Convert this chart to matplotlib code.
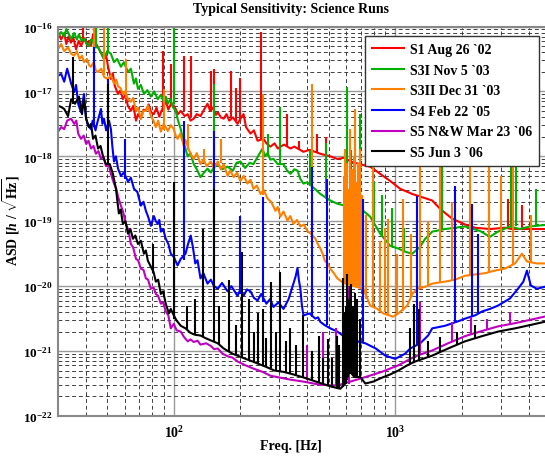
import numpy as np
import matplotlib
matplotlib.use("Agg")
import matplotlib.pyplot as plt
from matplotlib.ticker import LogLocator, LogFormatterMathtext, NullFormatter, FixedLocator

plt.rcParams["font.family"] = ["Liberation Serif", "DejaVu Serif"]
plt.rcParams["font.weight"] = "bold"
plt.rcParams["mathtext.fontset"] = "custom"
plt.rcParams["mathtext.rm"] = "Liberation Serif:bold"
plt.rcParams["mathtext.it"] = "Liberation Serif:italic:bold"
plt.rcParams["mathtext.bf"] = "Liberation Serif:bold"
plt.rcParams["axes.unicode_minus"] = False

# spectra: (frequency [Hz], log10 ASD) for the noise floor of each run
# lines:   (frequency [Hz], log10 floor, log10 peak) for the narrow spectral lines

s1_curve = [(30, -16.08), (31, -16.2), (32, -16.1), (32.7, -16.27), (33.5, -16.15), (34.3, -16.25),
            (35.1, -16.16), (36.2, -16.35), (37.2, -16.22), (38.1, -16.3), (39.5, -16.18), (40.5, -16.28),
            (41.4, -16.22), (42.3, -16.3), (43.2, -16.12), (44.3, -16.25), (45.5, -16.32), (46.8, -16.4),
            (48.4, -16.5), (49.5, -16.45), (50.5, -16.62), (52, -16.81), (53, -16.72), (54.2, -16.92),
            (56, -17.04), (57.5, -16.98), (58.9, -17.12), (60.5, -17.05), (62, -17.22), (64, -17.30),
            (65.7, -17.22), (67.5, -17.45), (69, -17.35), (71, -17.42), (73, -17.28), (74.8, -17.30),
            (77, -17.2), (79, -17.32), (81.3, -17.35), (83.5, -17.25), (86, -17.39), (88, -17.3),
            (92, -17.15), (94.5, -17.28), (97.5, -17.18), (102, -17.27), (104.5, -17.35), (107.5, -17.30),
            (112, -17.38), (115.6, -17.35), (119, -17.45), (123, -17.42), (127, -17.35), (132, -17.38),
            (137, -17.28), (142, -17.19), (146, -17.3), (150, -17.25), (155, -17.36), (158, -17.32),
            (163, -17.4), (168, -17.42), (173, -17.35), (178, -17.45), (185, -17.4), (194, -17.5),
            (200, -17.42), (206.6, -17.35), (212, -17.55), (222, -17.65), (230, -17.6), (239, -17.76),
            (254, -17.73), (262, -17.8), (273.5, -17.85), (285, -17.8), (295, -17.88), (303, -17.85),
            (315, -17.82), (336.5, -17.88), (350, -17.85), (385, -17.93), (410, -17.9), (459, -17.96),
            (509, -18.0), (548, -18.04), (590, -18.02), (627, -18.08), (710, -18.13), (771, -18.16),
            (855, -18.27), (949, -18.38), (1053, -18.5), (1194, -18.58), (1297, -18.62), (1469, -18.68),
            (1596, -18.81), (1806, -18.96), (2066, -19.05), (2293, -19.10), (2678, -19.12), (3128, -19.10),
            (3370, -19.12), (4055, -19.12), (5000, -19.12)]
s1_lines = [(38.8, -16.2, -16.0), (89, -17.3, -16.38), (96.9, -17.2, -16.58), (110.9, -17.3, -16.45),
            (119.3, -17.4, -16.45), (146.8, -17.3, -16.68), (151.4, -17.3, -16.65), (181, -17.4, -16.68),
            (190, -17.45, -16.95), (200, -17.45, -16.8), (246.6, -17.75, -16.08), (326, -17.85, -17.35),
            (368, -17.9, -17.76), (445, -17.95, -17.65), (489, -17.98, -17.70), (3229, -19.1, -18.65),
            (3735, -19.12, -18.75)]

s3i_curve = [(30, -16.16), (31, -16.085), (32, -16.15), (32.7, -16.04), (33.6, -16.12), (34.4, -16.19),
             (35.5, -16.1), (36.5, -16.2), (37.3, -16.12), (38.3, -16.22), (39.3, -16.19), (40.3, -16.26),
             (41.4, -16.30), (42.3, -16.2), (43.2, -16.22), (44.2, -16.32), (45.5, -16.32), (46.8, -16.4),
             (48.4, -16.5), (50, -16.38), (52, -16.42), (53.7, -16.55), (55.5, -16.5), (57.7, -16.62),
             (59.5, -16.55), (62.1, -16.70), (64, -16.65), (66.1, -16.88), (67.5, -16.8), (68.9, -16.96),
             (71, -16.9), (73.3, -17.04), (76, -16.98), (78.8, -17.08), (81.5, -17.0), (84.7, -17.12),
             (87.5, -17.05), (90.2, -17.16), (92, -17.08), (94, -17.19), (96.5, -17.12), (99, -17.24),
             (102, -17.30), (104.5, -17.45), (107.5, -17.58), (111, -17.8), (115.6, -18.0), (119, -17.95),
             (123, -18.12), (127, -18.2), (132, -18.32), (137, -18.25), (142, -18.19), (147, -18.25),
             (153, -18.15), (158, -18.12), (165, -18.2), (175, -18.16), (185, -18.22), (192, -18.1),
             (200, -18.08), (210, -18.18), (220, -18.1), (229, -18.12), (240, -18.0), (251.7, -17.88),
             (258, -18.0), (265, -17.95), (273, -18.05), (282, -18.04), (295, -18.12), (313, -18.12),
             (325, -18.22), (336.5, -18.27), (350, -18.2), (362, -18.22), (373, -18.35), (385, -18.42),
             (400, -18.4), (423, -18.47), (440, -18.52), (459, -18.58), (509, -18.68), (548, -18.73),
             (627, -18.78), (718, -18.84), (771, -18.93), (855, -19.19), (949, -19.38), (1032, -19.42),
             (1109, -19.47), (1194, -19.5), (1297, -19.39), (1365, -19.27), (1469, -19.16), (1680, -19.12),
             (1863, -19.10), (2066, -19.08), (2415, -19.15), (2678, -19.24), (2909, -19.16), (3296, -19.08),
             (3659, -19.12), (4055, -19.08), (5000, -19.05)]
s3i_lines = [(44.5, -16.3, -15.8), (50.4, -16.4, -15.8), (100, -17.2, -16.0), (151.4, -18.2, -16.88),
             (265, -18.0, -17.65), (303, -18.1, -17.24), (414, -18.45, -17.9), (489, -18.65, -17.8),
             (608, -18.78, -16.93), (630, -18.78, -17.9), (660, -18.8, -17.6), (695, -18.82, -17.35),
             (800, -19.0, -18.4), (870, -19.25, -18.6), (970, -19.4, -18.8), (1100, -19.47, -19.1),
             (1630, -19.12, -18.0), (2640, -19.2, -17.8), (3350, -19.08, -17.9), (3500, -19.08, -18.0),
             (4340, -19.08, -18.5)]

s3ii_curve = [(30, -16.35), (31, -16.27), (32, -16.38), (33.3, -16.32), (34.4, -16.42), (35.5, -16.45),
              (36.5, -16.38), (37.5, -16.5), (38.5, -16.45), (39.3, -16.55), (40.5, -16.5), (41.5, -16.6),
              (42.3, -16.62), (43.5, -16.55), (44.5, -16.68), (45.5, -16.70), (47, -16.65), (48.5, -16.78),
              (50.4, -16.81), (52, -16.75), (53.7, -16.88), (55, -16.82), (56, -16.92), (57.5, -16.95),
              (58.9, -17.04), (60.5, -17.0), (62, -17.12), (64, -17.16), (65.5, -17.1), (67.5, -17.30),
              (69, -17.25), (71, -17.42), (72.8, -17.3), (74.8, -17.30), (76.5, -17.22), (78.8, -17.38),
              (81, -17.45), (83, -17.55), (85, -17.45), (87.4, -17.62), (90, -17.5), (92, -17.55),
              (94, -17.61), (97, -17.52), (100, -17.58), (102, -17.68), (104, -17.73), (107, -17.65),
              (110.9, -17.84), (113, -17.75), (117, -17.9), (120, -17.98), (123, -18.04), (127, -17.95),
              (132, -18.12), (136, -18.05), (141, -18.15), (146.8, -18.08), (152, -18.18), (158, -18.08),
              (163, -18.2), (168, -18.12), (175, -18.30), (180, -18.22), (186.4, -18.32), (193, -18.25),
              (200, -18.38), (207, -18.3), (215, -18.42), (222, -18.36), (229, -18.5), (237, -18.45),
              (246.6, -18.58), (255, -18.52), (265, -18.65), (275, -18.7), (288, -18.84), (295, -18.78),
              (303, -18.93), (313, -18.85), (326, -18.99), (336, -18.92), (347, -19.04), (360, -18.98),
              (373, -19.08), (387, -19.05), (401, -19.15), (418, -19.2), (436, -19.27), (447, -19.35),
              (459, -19.42), (470, -19.5), (481, -19.61), (495, -19.65), (509, -19.73), (528, -19.8),
              (548, -19.88), (583, -19.95), (608, -19.97), (718, -20.04), (748, -20.19), (771, -20.30),
              (830, -20.35), (883, -20.42), (979, -20.47), (1032, -20.42), (1133, -20.30), (1194, -20.12),
              (1257, -20.04), (1365, -20.01), (1469, -19.96), (1680, -19.93), (1863, -19.90), (2066, -19.84),
              (2293, -19.82), (2541, -19.80), (2818, -19.76), (3128, -19.73), (3475, -19.65), (3735, -19.5),
              (3934, -19.62), (4365, -19.65), (5000, -19.65)]
s3ii_lines = [(43.6, -16.65, -15.9), (48.4, -16.75, -15.9), (60.8, -17.1, -16.5), (90.2, -17.6, -16.96),
              (115.6, -17.9, -17.5), (136.5, -18.1, -17.88), (163, -18.1, -17.73), (254, -18.6, -17.04),
              (423, -19.2, -16.88), (590, -19.95, -18.3), (595, -19.95, -17.88), (603, -19.96, -18.1),
              (612, -19.97, -18.5), (627, -19.97, -17.58), (640, -19.98, -18.2), (650, -19.99, -18.0),
              (661, -20.0, -17.27), (670, -20.0, -18.4), (680, -20.0, -18.1), (695, -20.0, -17.88),
              (705, -20.02, -18.6), (740, -20.2, -18.9), (796, -20.32, -18.04), (850, -20.38, -19.3),
              (900, -20.4, -19.1), (930, -20.45, -18.96), (1020, -20.45, -19.5), (1086, -20.38, -18.65),
              (1180, -20.15, -19.2), (1297, -20.03, -17.58), (1400, -20.0, -19.0), (1596, -19.94, -18.04),
              (1800, -19.9, -18.7), (2178, -19.83, -17.42), (2650, -19.78, -17.6), (3000, -19.75, -18.3),
              (3404, -19.67, -17.9), (4100, -19.64, -18.9)]

s4_curve = [(30, -16.76), (31, -16.73), (32, -16.85), (33, -16.65), (34.4, -16.88), (35.5, -17.01),
            (36.2, -16.9), (37, -17.19), (38.1, -17.32), (39.3, -17.04), (40.2, -17.42), (41, -17.53),
            (42.3, -17.58), (43, -17.45), (44.3, -17.6), (45, -17.5), (46.9, -17.27), (47.6, -17.5),
            (48.4, -17.42), (49.5, -17.6), (51, -17.45), (52, -17.58), (52.8, -17.85), (53.7, -18.08),
            (54.8, -18.0), (56, -18.19), (57.7, -18.30), (59.5, -18.25), (62.1, -18.39), (64, -18.33),
            (66.1, -18.5), (68.5, -18.55), (71, -18.76), (73, -18.7), (74.8, -18.84), (76.4, -18.92),
            (78.8, -19.07), (81.3, -18.92), (83, -19.0), (84.7, -19.04), (86, -18.98), (87.4, -19.16),
            (89.5, -19.12), (92, -19.27), (94.5, -19.35), (96.9, -19.5), (100, -19.55), (104, -19.68),
            (107.5, -19.58), (113, -19.5), (116, -19.35), (119.3, -19.22), (122, -19.4), (125, -19.65),
            (128, -19.6), (132, -19.88), (136, -19.8), (142, -19.96), (147, -19.9), (152, -20.0),
            (158, -20.04), (165, -19.95), (175, -20.08), (182, -20.0), (194, -20.15), (200, -20.05),
            (206.6, -20.15), (214, -20.05), (222, -20.08), (230, -20.18), (239, -20.22), (248, -20.12),
            (262, -20.27), (272, -20.2), (282, -20.32), (297, -20.25), (313, -20.35), (330, -20.2),
            (347, -19.96), (355, -19.85), (362, -19.72), (367, -19.9), (373, -20.04), (379, -20.3),
            (385, -20.45), (410, -20.42), (436, -20.5), (448, -20.48), (459, -20.55), (480, -20.6),
            (509, -20.65), (548, -20.70), (608, -20.81), (674, -20.85), (733, -20.88), (817, -20.96),
            (902, -21.07), (1000, -21.12), (1109, -21.04), (1169, -20.96), (1297, -20.88), (1408, -20.76),
            (1469, -20.65), (1680, -20.61), (1963, -20.53), (2066, -20.5), (2293, -20.45), (2466, -20.39),
            (2678, -20.35), (2909, -20.30), (3296, -20.19), (3584, -20.04), (3790, -19.93), (3934, -19.76),
            (4097, -19.99), (4365, -20.04), (5000, -19.99)]
s4_lines = [(43.6, -17.55, -16.32), (50.4, -17.5, -16.81), (60, -18.35, -17.73), (110.9, -19.6, -17.45),
            (151.4, -20.0, -17.61), (200, -20.12, -18.92), (251.7, -20.25, -18.62), (423, -20.48, -18.16),
            (494, -20.6, -18.35), (718, -20.87, -18.65), (1257, -20.9, -18.61), (1863, -20.56, -18.45),
            (2223, -20.47, -18.73), (2366, -20.43, -19.19)]

s5nw_curve = [(30, -17.62), (31, -17.55), (32, -17.58), (33, -17.45), (34.4, -17.42), (35.5, -17.5),
              (36.3, -17.45), (37, -17.65), (38.1, -17.73), (39.2, -17.68), (40.2, -17.81), (41.2, -17.76),
              (42.3, -17.88), (43.4, -17.84), (44.5, -17.96), (45.7, -17.92), (46.9, -18.04), (48.1, -18.0),
              (49.4, -18.15), (50.5, -18.1), (52, -18.27), (53.7, -18.42), (55, -18.5), (56, -18.62),
              (57.7, -18.76), (59, -18.85), (60.8, -19.04), (62.5, -19.15), (64, -19.35), (65.5, -19.4),
              (67.5, -19.58), (69, -19.6), (71, -19.73), (73, -19.75), (74.8, -19.88), (76.5, -19.9),
              (78.8, -20.04), (81, -20.02), (83, -20.12), (85, -20.15), (87.4, -20.27), (89.5, -20.25),
              (92, -20.39), (94.5, -20.45), (96.9, -20.65), (100, -20.58), (103, -20.68), (107.5, -20.70),
              (111, -20.78), (115.6, -20.85), (119, -20.82), (123, -20.86), (128, -20.84), (132, -20.9),
              (140, -20.88), (146.8, -20.92), (152, -20.97), (158, -20.96), (166, -21.04), (175, -21.08),
              (184, -21.1), (194, -21.16), (211, -21.22), (229, -21.27), (251.7, -21.32), (273.5, -21.38),
              (303, -21.41), (336.5, -21.44), (385, -21.47), (459, -21.52), (548, -21.53), (627, -21.47),
              (733, -21.40), (870, -21.32), (1032, -21.22), (1232, -21.08), (1469, -20.99), (1733, -20.88),
              (2066, -20.77), (2466, -20.69), (2909, -20.62), (3475, -20.57), (4055, -20.52), (5000, -20.45)]
s5nw_lines = [(400, -21.45, -20.9), (470, -21.5, -20.7), (540, -21.52, -20.65), (620, -21.5, -20.0),
              (1297, -21.05, -20.24), (1800, -20.86, -20.55), (2200, -20.75, -20.47), (2600, -20.67, -20.5),
              (3300, -20.59, -20.4)]

s5_curve = [(30, -17.22), (31, -17.24), (32, -17.27), (33.3, -17.38), (34.4, -17.12), (35.8, -17.19),
            (37.3, -17.08), (38.5, -17.35), (39.3, -17.12), (40.2, -17.42), (41.4, -17.55), (42.3, -17.5),
            (43.2, -17.73), (44.3, -17.68), (45.5, -17.88), (46.7, -17.84), (47.9, -18.0), (49.4, -18.12),
            (51.4, -18.12), (53.1, -18.27), (54.8, -18.50), (56.5, -18.88), (57.6, -18.82), (58.9, -19.04),
            (60.5, -19.0), (62.1, -19.19), (63.7, -19.12), (65.4, -19.27), (67, -19.22), (68.9, -19.35),
            (71, -19.3), (73.3, -19.5), (74.8, -19.45), (76.4, -19.61), (78.8, -19.70), (81, -19.78),
            (83, -19.93), (85, -19.9), (87.4, -20.12), (89.5, -20.08), (92, -20.27), (95, -20.42),
            (96.9, -20.35), (100, -20.45), (103, -20.53), (107.5, -20.61), (113, -20.65), (119, -20.72),
            (125, -20.75), (132, -20.76), (139, -20.8), (148, -20.84), (158, -20.88), (168, -20.96),
            (184, -21.04), (211, -21.12), (227, -21.16), (246.6, -21.21), (260, -21.24), (285, -21.30),
            (313, -21.32), (347, -21.36), (397, -21.42), (466, -21.50), (518, -21.55), (565, -21.58),
            (595, -21.5), (620, -21.3), (654, -21.4), (695, -21.40), (733, -21.50), (796, -21.47),
            (870, -21.41), (949, -21.36), (1032, -21.30), (1133, -21.22), (1232, -21.16), (1469, -21.07),
            (1733, -20.96), (2066, -20.85), (2466, -20.77), (2909, -20.70), (3475, -20.65), (4055, -20.60),
            (5000, -20.53)]
s5_lines = [(35.1, -17.2, -16.47), (50.4, -18.1, -16.88), (80.5, -19.8, -19.35), (100, -20.5, -18.4),
            (115, -20.68, -20.3), (125, -20.74, -20.2), (136, -20.78, -19.12), (151.4, -20.85, -18.5),
            (160, -20.9, -20.3), (178, -21.0, -19.9), (190, -21.05, -20.6), (204, -21.1, -19.47),
            (218, -21.13, -20.19), (230, -21.17, -20.7), (239, -21.18, -20.42), (252, -21.22, -20.35),
            (260, -21.24, -20.8), (273.5, -21.26, -19.93), (290, -21.3, -20.7), (303, -21.3, -19.78),
            (320, -21.33, -20.85), (336.5, -21.33, -20.65), (355, -21.37, -20.9), (385, -21.4, -20.45),
            (420, -21.45, -21.0), (452, -21.48, -20.76), (470, -21.5, -21.1), (499, -21.52, -20.82),
            (520, -21.55, -21.1), (548, -21.56, -20.76), (560, -21.57, -20.9), (583, -21.55, -19.88),
            (590, -21.5, -20.4), (600, -21.5, -20.3), (608, -21.45, -19.81), (615, -21.4, -20.2),
            (625, -21.35, -20.0), (634, -21.35, -19.96), (645, -21.38, -20.3), (660, -21.4, -20.1),
            (674, -21.4, -20.19), (690, -21.42, -20.5), (1169, -21.2, -20.65), (1213, -21.18, -20.27),
            (1277, -21.15, -20.35), (1400, -21.1, -20.85), (1600, -21.02, -20.78), (1900, -20.9, -20.7),
            (2300, -20.8, -20.6)]

run_labels = ["S1 Aug 26 `02", "S3I Nov 5 `03", "S3II Dec 31 `03", "S4 Feb 22 `05",
              "S5 N&W Mar 23 `06", "S5 Jun 3 `06"]
run_colors = ["#ff0000", "#00b000", "#ff8000", "#0000ff", "#c000c0", "#000000"]
run_curves = [s1_curve, s3i_curve, s3ii_curve, s4_curve, s5nw_curve, s5_curve]
run_lines = [s1_lines, s3i_lines, s3ii_lines, s4_lines, s5nw_lines, s5_lines]

fig = plt.figure(figsize=(5.45, 4.64), dpi=100)
ax = fig.add_axes([58 / 545, 47 / 464, 492 / 545, 389.5 / 464])

for label, color, curve, lines in zip(run_labels, run_colors, run_curves, run_lines):
    f, e = zip(*curve)
    ax.plot(f, 10.0 ** np.array(e), color=color, lw=1.5, label=label)
    lf, lo, hi = zip(*lines)
    ax.vlines(lf, 10.0 ** np.array(lo), 10.0 ** np.array(hi), color=color, lw=1.5)

ax.set_xscale("log")
ax.set_yscale("log")
ax.set_xlim(30, 5000)
ax.set_ylim(1e-22, 1e-16)

ax.xaxis.set_major_locator(FixedLocator([100, 1000]))
ax.xaxis.set_major_formatter(LogFormatterMathtext())
ax.xaxis.set_minor_locator(LogLocator(base=10, subs=np.arange(2, 10), numticks=20))
ax.xaxis.set_minor_formatter(NullFormatter())
ax.yaxis.set_major_locator(FixedLocator([1e-22, 1e-21, 1e-20, 1e-19, 1e-18, 1e-17, 1e-16]))
ax.yaxis.set_major_formatter(LogFormatterMathtext())
ax.yaxis.set_minor_locator(LogLocator(base=10, subs=np.arange(2, 10), numticks=20))
ax.yaxis.set_minor_formatter(NullFormatter())

ax.grid(which="major", color="#9a9a9a", lw=1.0, ls="-")
ax.grid(which="minor", color="#404040", lw=0.7, ls=(0, (4, 3)))
ax.set_axisbelow(True)
ax.tick_params(which="both", length=0, labelsize=10)
ax.tick_params(axis="x", pad=6)
ax.tick_params(axis="y", pad=4, labelsize=9.5)
for sp in ax.spines.values():
    sp.set_color("#888888")
    sp.set_linewidth(1.5)

leg = ax.legend(loc="upper right", bbox_to_anchor=(539 / 545, 1 - 37 / 464), bbox_transform=fig.transFigure,
                fontsize=10, fancybox=False, framealpha=1, edgecolor="#333333", handlelength=2.3,
                handletextpad=0.45, labelspacing=0.55, borderpad=0.5, borderaxespad=0)
leg.get_frame().set_linewidth(1.0)

fig.text(291 / 545, 1 - 10 / 464, "Typical Sensitivity: Science Runs", ha="center", va="center",
         fontsize=10, fontweight="bold")
fig.text(291 / 545, 1 - 447 / 464, "Freq. [Hz]", ha="center", va="center", fontsize=10, fontweight="bold")
fig.text(11 / 545, 1 - 220 / 464, r"ASD [$h$ / $\sqrt{\mathrm{Hz}}$]", ha="center", va="center",
         rotation=90, fontsize=10, fontweight="bold")

fig.savefig("out.png", dpi=100)
